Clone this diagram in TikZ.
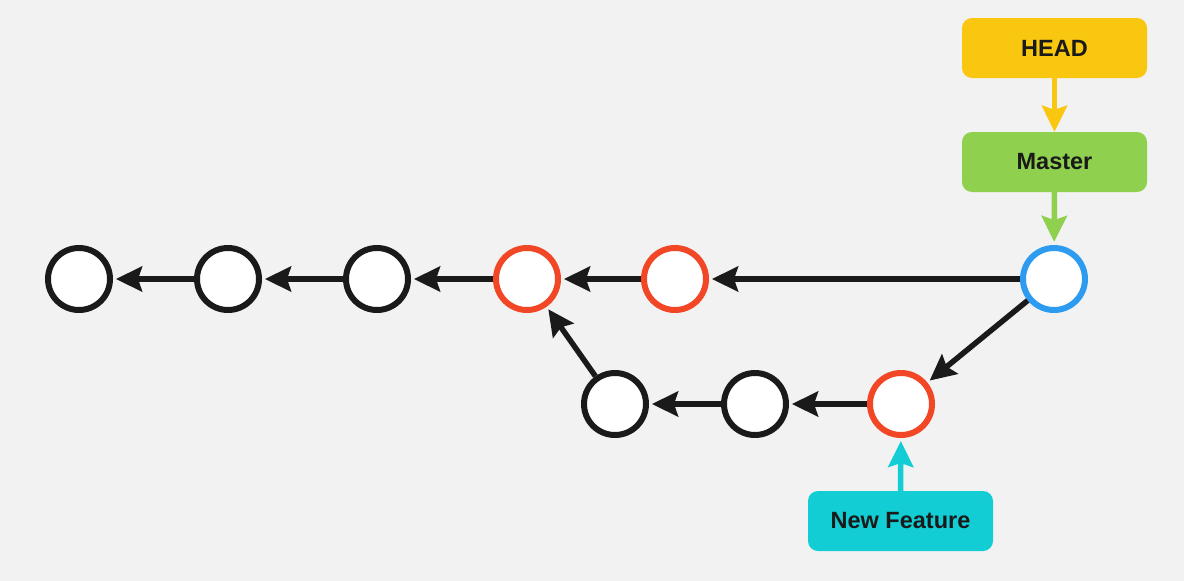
\documentclass[tikz,border=0pt]{standalone}
\usepackage{fontspec}
\setsansfont{Liberation Sans}
\usetikzlibrary{arrows.meta,positioning}
\definecolor{fondo}{HTML}{F2F2F2}
\definecolor{negro}{HTML}{1A1A1A}
\definecolor{rojo}{HTML}{F24726}
\definecolor{azul}{HTML}{2D9BF0}
\definecolor{amarillo}{HTML}{FAC710}
\definecolor{verde}{HTML}{8FD14F}
\definecolor{cian}{HTML}{12CDD4}
\begin{document}
\begin{tikzpicture}[x=1pt,y=-1pt,
	commit/.style={circle,draw=negro,line width=6pt,fill=white,minimum size=62pt,inner sep=0pt},
	rama/.style={rounded corners=10pt,minimum width=185pt,minimum height=60pt,inner sep=0pt,font=\sffamily\bfseries\fontsize{23.5}{28}\selectfont,text=negro},
	flecha/.style={line width=5.5pt,draw=negro,-{Stealth[length=26pt,width=25pt,inset=4pt]},shorten >=3pt}]
			%fondo
			\fill[fondo] (0,0) rectangle (1184,581);
			\useasboundingbox (0,0) rectangle (1184,581);
			
			%commits de master
			\node[commit] (c1) at (79,279) {};
			\node[commit] (c2) at (228,279) {};
			\node[commit] (c3) at (377,279) {};
			\node[commit,draw=rojo] (c4) at (527,279) {};
			\node[commit,draw=rojo] (c5) at (675,279) {};
			\node[commit,draw=azul] (c6) at (1054,279) {};
			
			%commits de la rama
			\node[commit] (f1) at (615,404) {};
			\node[commit] (f2) at (755,404) {};
			\node[commit,draw=rojo] (f3) at (901,404) {};
			
			%etiquetas
			\node[rama,fill=amarillo] (head) at (1054.5,48) {HEAD};
			\node[rama,fill=verde] (master) at (1054.5,162) {Master};
			\node[rama,fill=cian] (feature) at (900.5,521) {New Feature};
			
			\draw[flecha] (c2) -- (c1);
			\draw[flecha] (c3) -- (c2);
			\draw[flecha] (c4) -- (c3);
			\draw[flecha] (c5) -- (c4);
			\draw[flecha] (c6) -- (c5);
			\draw[flecha] (c6) -- (f3);
			\draw[flecha] (f3) -- (f2);
			\draw[flecha] (f2) -- (f1);
			\draw[flecha] (f1) -- (c4);
			
			\draw[flecha,draw=amarillo,shorten >=0pt] (head) -- (master);
			\draw[flecha,draw=verde] (master) -- (c6);
			\draw[flecha,draw=cian] (feature) -- (f3);
	\end{tikzpicture}
\end{document}
